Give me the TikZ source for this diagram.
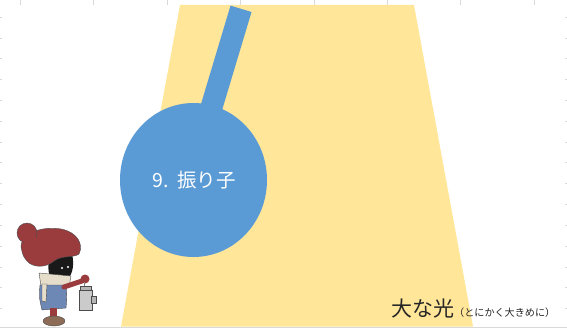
\documentclass[tikz,border=0pt]{standalone}
\usepackage{fontspec}
\newfontfamily\jp{Noto Sans CJK JP}
\definecolor{lightgold}{HTML}{FFE699}
\definecolor{paneblue}{HTML}{5B9BD5}
\definecolor{hatred}{HTML}{9A3B3D}
\definecolor{coatblue}{HTML}{6E88B6}
\definecolor{scarfcream}{HTML}{E6DDCB}
\definecolor{bootbrown}{HTML}{8C6B57}
\definecolor{lanterngray}{HTML}{B5B5B5}
\definecolor{gridgray}{HTML}{D9D9D9}
\tikzset{
  tick/.style={draw=gridgray, line width=0.8pt},
  beam/.style={fill=lightgold},
  pendulum/.style={fill=paneblue},
  outline/.style={draw=black!70, line width=0.4pt}
}
\begin{document}
\begin{tikzpicture}[x=1pt,y=-1pt]
\useasboundingbox (0,0) rectangle (567,329);

% faint sheet grid ticks along the edges
\foreach \x in {20,93,167,240,314,387,460,534}
  \draw[tick] (\x,0) -- (\x,5);
\foreach \y in {17,38,58,79,100,121,142,162,183,204,225,246,267,287,308}{
  \draw[tick] (0,\y) -- (2,\y);
  \draw[tick] (565,\y) -- (567,\y);
}
\draw[draw=gridgray, line width=1.5pt] (0,327.5) -- (567,327.5);

% light beam
\path[beam] (180,5) -- (414,5) -- (473,326.5) -- (121,326.5) -- cycle;

% pendulum: rod and bob
\path[pendulum] (230.5,5.6) -- (251.5,12) -- (219.9,117.4) -- (198.9,111) -- cycle;
\path[pendulum] (193.5,180) ellipse (73.5 and 77);
\node[text=white, font=\jp\fontsize{19.5}{19.5}\selectfont] (bob) at (194,180) {9.\hspace{0.45em}振り子};

% caption
\node[anchor=base west, inner sep=0pt, text=black!85] (caption) at (391,316)
  {\jp\fontsize{21}{21}\selectfont 大な光\fontsize{10.1}{10.1}\selectfont （とにかく大きめに）};

% small figure with a lantern
\begin{scope}
  % face
  \fill[black!90] (49,256) -- (72,254) .. controls (75,266) and (72,278) .. (64,282)
    -- (52,282) .. controls (48,272) .. cycle;
  \fill[white] (62,268) circle (1.2);
  \fill[white] (68,267) circle (1.2);
  % scarf
  \fill[scarfcream, outline] (39,273) -- (71,276) -- (69,287) -- (41,286) -- cycle;
  % coat
  \fill[coatblue, outline] (40,285) -- (66,285) .. controls (67,297) .. (66,308) -- (42,310) .. controls (39,297) .. cycle;
  \fill[scarfcream, outline] (42,284) -- (47,284) -- (46,302) -- (42,301) -- cycle;
  % sleeve and mitten
  \draw[hatred, line width=5pt, line cap=round] (64,287) -- (82,281);
  \fill[hatred] (85,279) circle (4.5);
  % lantern
  \draw[gray, line width=0.8pt] (84,282) -- (84,286);
  \fill[lanterngray, outline] (80,286) rectangle (91,290);
  \fill[lanterngray!70, outline] (79,290) rectangle (92,310);
  \fill[lanterngray, outline] (91,296) rectangle (96,303);
  % leg and shoe
  \fill[hatred] (50,308) rectangle (57,318);
  \fill[bootbrown, outline] (54,321) ellipse (11 and 5);
  % hat with pompom
  \fill[hatred, outline] (21,247) .. controls (21,232) and (44,226) .. (61,229)
    .. controls (77,232) and (84,244) .. (79,254)
    .. controls (74,258) and (62,255) .. (54,261)
    .. controls (46,268) and (33,268) .. (27,261)
    .. controls (23,256) .. cycle;
  \fill[hatred, outline] (27,233) circle (10);
  \fill[hatred] (30,240) circle (6.5);
\end{scope}
\end{tikzpicture}
\end{document}
